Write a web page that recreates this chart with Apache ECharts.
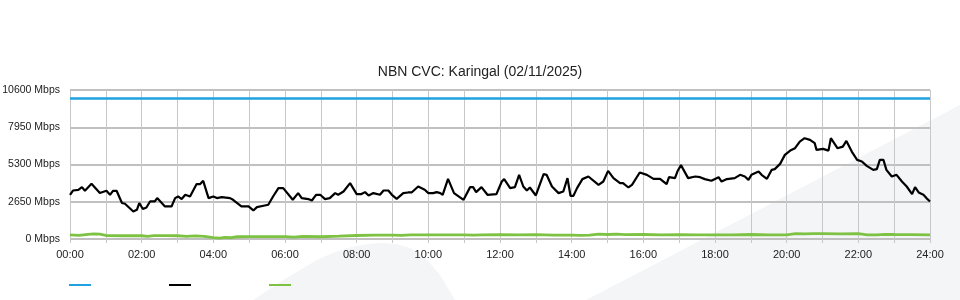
<!DOCTYPE html>
<html>
<head>
<meta charset="utf-8">
<script src="https://cdn.jsdelivr.net/npm/echarts@6/dist/echarts.min.js"></script>
<style>
html,body{margin:0;padding:0;background:#fff;}
#chart{width:960px;height:300px;}
</style>
</head>
<body>
<div id="chart"></div>
<script>
// ---- data (minutes since midnight, Mbps) ----
const title = 'NBN CVC: Karingal (02/11/2025)';
const xTickLabels = ['00:00','02:00','04:00','06:00','08:00','10:00','12:00','14:00','16:00','18:00','20:00','22:00','24:00'];
const yTickValues = [0, 2650, 5300, 7950, 10600];

const capacityTimes = [0, 1440];
const capacityValues = [10000, 10000];

const downTimes = [0,5,14,20,25,36,50,61,67,72,78,87,92,106,112,116,122,128,134,142,146,159,170,176,181,187,193,201,212,218,223,232,240,246,254,268,273,287,299,307,313,324,332,340,349,357,373,382,388,399,405,412,419,
427,435,444,449,458,469,480,488,494,500,508,519,525,533,539,547,558,566,572,583,594,600,608,614,620,624,633,643,659,670,675,680,689,699,714,723,727,737,745,752,759,765,770,780,793,798,807,818,826,833,838,843,849,858,868,885,893,901,910,921,
926,935,941,954,966,977,988,999,1003,1013,1017,1023,1035,1047,1055,1063,1074,1086,1091,1100,1113,1122,1130,1136,1141,1153,1158,1167,1175,1180,1189,1197,1206,1214,1222,1230,1239,1247,1250,1261,1270,1274,1285,1294,1300,1309,1318,1326,1334,1345,1351,1356,1362,1367,1376,1384,1393,1401,1410,1415,1421,1429,1434,1440];
const downValues = [3145,3450,3500,3690,3430,3930,3270,3430,3145,3430,3430,2560,2505,1960,2080,2560,2130,2245,2670,2670,2910,2315,2315,2910,3025,2840,3145,3025,3905,3905,4140,2910,3025,2910,2980,2910,2790,2315,2315,2030,2270,2365,2435,3025,3620,3620,2790,3265,2910,2840,2740,3145,3145,
2840,2910,3265,3145,3380,3975,3195,3195,3335,3095,3265,3145,3450,3450,3145,2860,3265,3310,3310,3735,3500,3265,3265,3335,3265,3145,4280,3265,2790,3690,3690,3335,3690,3145,3195,4090,4260,3620,3690,4565,3735,3450,3665,3095,4615,4565,3735,3265,3380,4330,3075,3075,3620,4260,4445,3855,4090,4850,4330,3975,
3975,3665,3855,4730,4565,4280,4280,3905,4400,4330,4800,5255,4330,4445,4400,4260,4140,4400,4090,4260,4330,4565,4445,4210,4565,4800,4565,4280,4920,4970,5345,5985,6290,6460,6930,7170,7050,6815,6340,6410,6290,7170,6460,6575,6980,6220,5630,5510,5205,4920,4970,5630,5630,4920,4445,4565,4090,3735,3195,3690,3310,3145,2910,2670];

const upTimes = [0,15,30,40,50,60,90,120,130,140,160,180,195,210,225,240,250,260,270,280,300,330,360,375,390,420,450,480,510,540,555,570,600,630,660,675,690,720,750,780,810,840,855,870,885,900,915,930,960,990,1020,1050,1080,1110,1140,1170,1200,1215,1230,1245,1260,1290,1320,1335,1350,1365,1380,1410,1440];
const upValues = [300,260,330,370,340,250,230,230,190,240,240,230,190,220,180,100,60,120,90,160,170,170,170,140,190,160,200,250,270,280,260,300,300,300,300,270,300,310,300,310,280,270,260,280,350,320,350,310,320,300,310,290,290,300,320,300,300,380,360,380,380,370,380,300,290,330,320,310,300];

const zip = (t, v) => t.map((x, i) => [x, v[i]]);

const chart = echarts.init(document.getElementById('chart'), null, {renderer: 'canvas'});
const FONT = 'Liberation Sans, Arial, sans-serif';
const legendBase = {top: 284, padding: 0, icon: 'rect', itemWidth: 22, itemHeight: 2, formatter: () => '', selectedMode: false};

chart.setOption({
  animation: false,
  backgroundColor: '#ffffff',
  graphic: [
    {type: 'polygon', silent: true, z: -10,
     shape: {points: [[586,300],[663,260],[841,167],[960,105],[960,300]]},
     style: {fill: '#f4f5f7'}},
    {type: 'polygon', silent: true, z: -10,
     shape: {points: [[253,300],[285,279],[317,260],[335,252],[352,247],[368,244],[382,243],[396,244],[410,248],[420,253],[427,260],[440,275],[455,300]]},
     style: {fill: '#f4f5f7'}}
  ],
  title: {
    text: title, left: 'center', top: 60,
    textStyle: {fontFamily: FONT, fontSize: 14, fontWeight: 'normal', color: '#222'}
  },
  legend: [
    Object.assign({left: 69, data: ['Capacity']}, legendBase),
    Object.assign({left: 169, data: ['Download']}, legendBase),
    Object.assign({left: 269, data: ['Upload']}, legendBase)
  ],
  grid: {left: 70, right: 30, top: 90, height: 149, containLabel: false, outerBoundsMode: 'none'},
  xAxis: {
    type: 'value', min: 0, max: 1440, interval: 120,
    axisLine: {show: false},
    axisTick: {show: true, length: 4, lineStyle: {color: '#c8c8c8'}},
    minorTick: {show: true, splitNumber: 2, length: 4, lineStyle: {color: '#c8c8c8'}},
    splitLine: {show: true, lineStyle: {color: '#c8c8c8', width: 1}},
    minorSplitLine: {show: true, lineStyle: {color: '#c8c8c8', width: 1}},
    axisLabel: {
      margin: 10, color: '#222', fontFamily: FONT, fontSize: 11,
      formatter: v => xTickLabels[Math.round(v / 120)]
    }
  },
  yAxis: {
    type: 'value', min: 0, max: 10600, interval: 2650,
    axisLine: {show: false}, axisTick: {show: false},
    splitLine: {show: true, lineStyle: {color: '#c0c0c0', width: 2}},
    axisLabel: {
      margin: 10, color: '#222', fontFamily: FONT, fontSize: 10.5,
      formatter: v => (yTickValues.includes(v) ? v + ' Mbps' : '')
    }
  },
  series: [
    {name: 'Capacity', type: 'line', data: zip(capacityTimes, capacityValues), showSymbol: false,
     itemStyle: {color: '#1fa2e0'}, lineStyle: {color: '#1fa2e0', width: 2.5}, z: 3},
    {name: 'Download', type: 'line', data: zip(downTimes, downValues), showSymbol: false,
     itemStyle: {color: '#000'}, lineStyle: {color: '#000', width: 2.2}, z: 4},
    {name: 'Upload', type: 'line', data: zip(upTimes, upValues), showSymbol: false,
     itemStyle: {color: '#7dc242'}, lineStyle: {color: '#7dc242', width: 2.8}, z: 2}
  ]
});
</script>
</body>
</html>
